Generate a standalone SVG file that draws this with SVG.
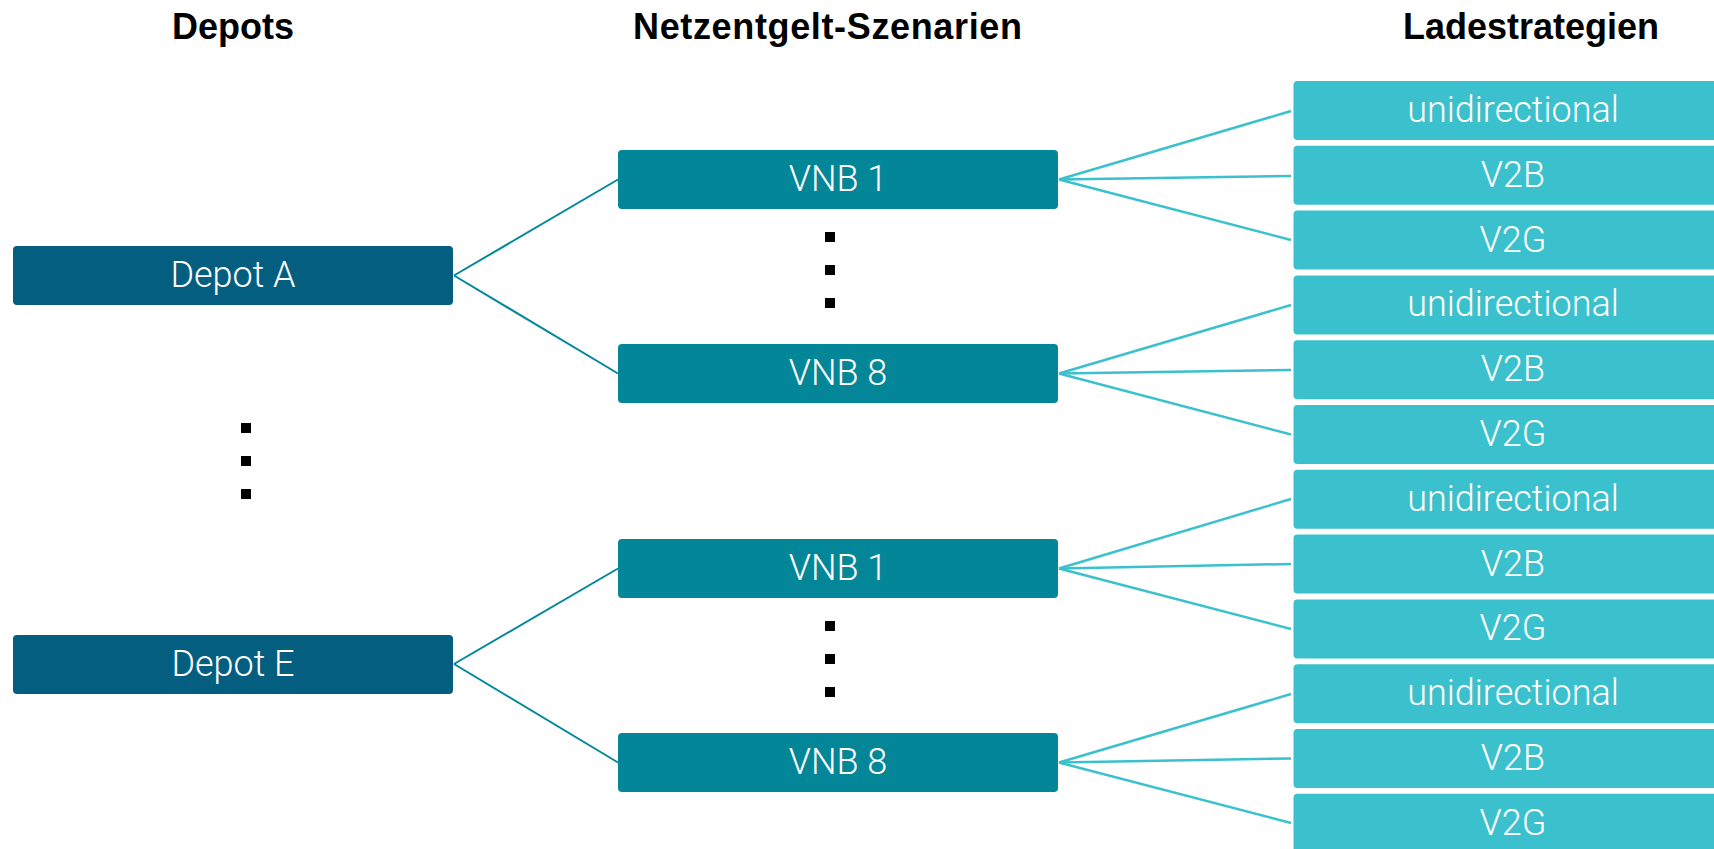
<svg xmlns="http://www.w3.org/2000/svg" width="1714" height="849" viewBox="0 0 1714 849">
<style>
.hdr{font-family:"Liberation Sans",Arial,sans-serif;font-weight:700;font-size:36px;fill:#000;text-anchor:middle}
.lbl{font-family:Roboto,"Liberation Sans",sans-serif;font-weight:300;font-size:36px;fill:#fff;text-anchor:middle}
.depot{fill:#035E80}
.vnb{fill:#038698}
.strat{fill:#3BC1CD}
.c1{stroke:#03889B;stroke-width:2;fill:none}
.c2{stroke:#3BC1CD;stroke-width:2.5;fill:none}
.dot{fill:#000}
</style>
<rect width="1714" height="849" fill="#fff"/>
<g id="headers">
<text class="hdr" x="233" y="39">Depots</text>
<text class="hdr" x="827.5" y="39" textLength="389" lengthAdjust="spacing">Netzentgelt-Szenarien</text>
<text class="hdr" x="1531" y="39">Ladestrategien</text>
</g>
<g id="connectors">
<line class="c1" x1="454" y1="275.5" x2="618" y2="179.5"/>
<line class="c1" x1="454" y1="275.5" x2="618" y2="373.5"/>
<line class="c1" x1="454" y1="664" x2="618" y2="568.5"/>
<line class="c1" x1="454" y1="664" x2="618" y2="762.5"/>
<line class="c2" x1="1059" y1="179.5" x2="1291" y2="111"/>
<line class="c2" x1="1059" y1="179.5" x2="1291" y2="176"/>
<line class="c2" x1="1059" y1="179.5" x2="1291" y2="240"/>
<line class="c2" x1="1059" y1="373.5" x2="1291" y2="305"/>
<line class="c2" x1="1059" y1="373.5" x2="1291" y2="370"/>
<line class="c2" x1="1059" y1="373.5" x2="1291" y2="434.5"/>
<line class="c2" x1="1059" y1="568.5" x2="1291" y2="499"/>
<line class="c2" x1="1059" y1="568.5" x2="1291" y2="564"/>
<line class="c2" x1="1059" y1="568.5" x2="1291" y2="629"/>
<line class="c2" x1="1059" y1="762.5" x2="1291" y2="694"/>
<line class="c2" x1="1059" y1="762.5" x2="1291" y2="758.5"/>
<line class="c2" x1="1059" y1="762.5" x2="1291" y2="823"/>
</g>
<g id="depotA"><rect class="depot" x="13" y="246" width="440" height="59" rx="4"/><text class="lbl" x="233" y="287">Depot A</text></g>
<g id="depotE"><rect class="depot" x="13" y="635" width="440" height="59" rx="4"/><text class="lbl" x="233" y="676">Depot E</text></g>
<g id="depotDots"><rect class="dot" x="241" y="423" width="10" height="10"/><rect class="dot" x="241" y="456" width="10" height="10"/><rect class="dot" x="241" y="489" width="10" height="10"/></g>
<g id="vnb1a"><rect class="vnb" x="618" y="150" width="440" height="59" rx="4"/><text class="lbl" x="838" y="191">VNB 1</text></g>
<g id="vnb8a"><rect class="vnb" x="618" y="344" width="440" height="59" rx="4"/><text class="lbl" x="838" y="385">VNB 8</text></g>
<g id="vnb1e"><rect class="vnb" x="618" y="539" width="440" height="59" rx="4"/><text class="lbl" x="838" y="580">VNB 1</text></g>
<g id="vnb8e"><rect class="vnb" x="618" y="733" width="440" height="59" rx="4"/><text class="lbl" x="838" y="774">VNB 8</text></g>
<g id="vnbDotsA"><rect class="dot" x="825" y="232" width="10" height="10"/><rect class="dot" x="825" y="265" width="10" height="10"/><rect class="dot" x="825" y="298" width="10" height="10"/></g>
<g id="vnbDotsE"><rect class="dot" x="825" y="621" width="10" height="10"/><rect class="dot" x="825" y="654" width="10" height="10"/><rect class="dot" x="825" y="687" width="10" height="10"/></g>
<g id="s1"><rect class="strat" x="1293.5" y="81" width="440" height="59" rx="4"/><text class="lbl" x="1513" y="122">unidirectional</text></g>
<g id="s2"><rect class="strat" x="1293.5" y="145.8" width="440" height="59" rx="4"/><text class="lbl" x="1513" y="186.8">V2B</text></g>
<g id="s3"><rect class="strat" x="1293.5" y="210.6" width="440" height="59" rx="4"/><text class="lbl" x="1513" y="251.6">V2G</text></g>
<g id="s4"><rect class="strat" x="1293.5" y="275.4" width="440" height="59" rx="4"/><text class="lbl" x="1513" y="316.4">unidirectional</text></g>
<g id="s5"><rect class="strat" x="1293.5" y="340.2" width="440" height="59" rx="4"/><text class="lbl" x="1513" y="381.2">V2B</text></g>
<g id="s6"><rect class="strat" x="1293.5" y="405" width="440" height="59" rx="4"/><text class="lbl" x="1513" y="446">V2G</text></g>
<g id="s7"><rect class="strat" x="1293.5" y="469.8" width="440" height="59" rx="4"/><text class="lbl" x="1513" y="510.8">unidirectional</text></g>
<g id="s8"><rect class="strat" x="1293.5" y="534.6" width="440" height="59" rx="4"/><text class="lbl" x="1513" y="575.6">V2B</text></g>
<g id="s9"><rect class="strat" x="1293.5" y="599.4" width="440" height="59" rx="4"/><text class="lbl" x="1513" y="640.4">V2G</text></g>
<g id="s10"><rect class="strat" x="1293.5" y="664.2" width="440" height="59" rx="4"/><text class="lbl" x="1513" y="705.2">unidirectional</text></g>
<g id="s11"><rect class="strat" x="1293.5" y="729" width="440" height="59" rx="4"/><text class="lbl" x="1513" y="770">V2B</text></g>
<g id="s12"><rect class="strat" x="1293.5" y="793.8" width="440" height="59" rx="4"/><text class="lbl" x="1513" y="834.8">V2G</text></g>
</svg>
